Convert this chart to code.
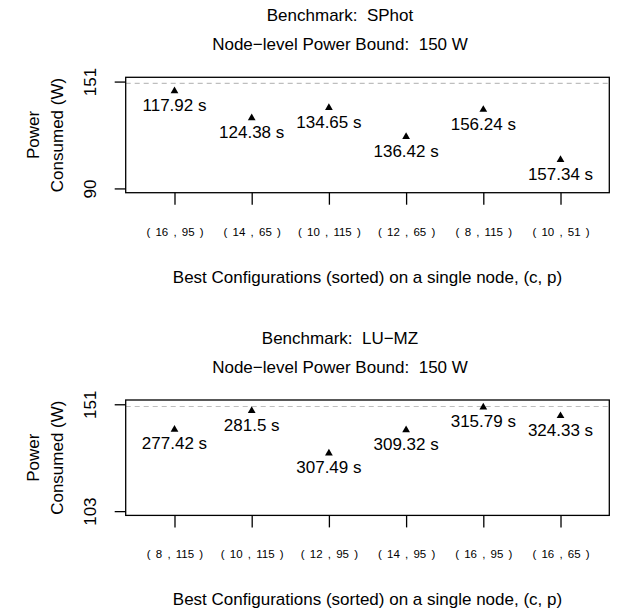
<!DOCTYPE html>
<html>
<head>
<meta charset="utf-8">
<script src="https://cdn.jsdelivr.net/npm/d3@7"></script>
<style>
  body { margin: 0; background: #fff; }
  text { font-family: 'Liberation Sans', Arial, sans-serif; fill: #000; }
</style>
</head>
<body>
<div id="chart"></div>
<script>
// data

var benchmarks = ['SPhot', 'LU\u2212MZ']
var powerBound = 150

var configsSPhot = ['( 16 , 95 )', '( 14 , 65 )', '( 10 , 115 )', '( 12 , 65 )', '( 8 , 115 )', '( 10 , 51 )']
var powerSPhot = [145.6, 130.2, 136.1, 119.5, 135.0, 106.4]
var timeSPhot = ['117.92 s', '124.38 s', '134.65 s', '136.42 s', '156.24 s', '157.34 s']
var yTicksSPhot = [90, 151]

var configsLUMZ = ['( 8 , 115 )', '( 10 , 115 )', '( 12 , 95 )', '( 14 , 95 )', '( 16 , 95 )', '( 16 , 65 )']
var powerLUMZ = [139.7, 148.1, 129.0, 139.4, 149.7, 145.8]
var timeLUMZ = ['277.42 s', '281.5 s', '307.49 s', '309.32 s', '315.79 s', '324.33 s']
var yTicksLUMZ = [103, 151]

// Set up sizes

var svgWidth = 622
var svgHeight = 610
var margin = { left: 125.7, right: 12.7 }
var width = svgWidth - margin.left - margin.right
var height = 115.4
var panelTops = [77.3, 400]

var svg = d3
  .select('#chart')
  .append('svg')
  .attr('width', svgWidth)
  .attr('height', svgHeight)

svg
  .append('rect')
  .attr('width', svgWidth)
  .attr('height', svgHeight)
  .attr('fill', '#fff')

var panels = [
  { name: benchmarks[0], configs: configsSPhot, power: powerSPhot, time: timeSPhot, ticks: yTicksSPhot },
  { name: benchmarks[1], configs: configsLUMZ, power: powerLUMZ, time: timeLUMZ, ticks: yTicksLUMZ }
]

panels.forEach(function(p, i) {
  var g = svg
    .append('g')
    .attr('transform', 'translate(' + margin.left + ',' + panelTops[i] + ')')

  // R style limits, padded 4% on each side
  var n = p.power.length
  var xLo = 0.6
  var xHi = n + 0.4
  var xPad = (xHi - xLo) * 0.04
  var xPositionScale = d3
    .scaleLinear()
    .domain([xLo - xPad, xHi + xPad])
    .range([0, width])

  var yMin = p.ticks[0]
  var yMax = p.ticks[1]
  var yPad = (yMax - yMin) * 0.04
  var yPositionScale = d3
    .scaleLinear()
    .domain([yMin - yPad, yMax + yPad])
    .range([height, 0])

  // titles
  g.append('text')
    .text('Benchmark:\u00a0 ' + p.name)
    .attr('x', 340 - margin.left)
    .attr('y', -56.5)
    .attr('text-anchor', 'middle')
    .attr('font-size', 17)

  g.append('text')
    .text('Node\u2212level Power Bound:\u00a0 ' + powerBound + ' W')
    .attr('x', 340 - margin.left)
    .attr('y', -27)
    .attr('text-anchor', 'middle')
    .attr('font-size', 17)

  // power bound line
  g.append('line')
    .attr('x1', 0)
    .attr('x2', width)
    .attr('y1', yPositionScale(powerBound))
    .attr('y2', yPositionScale(powerBound))
    .attr('stroke', '#bebebe')
    .attr('stroke-width', 1.2)
    .attr('stroke-dasharray', '5,4')

  // points
  var triangle = d3.symbol().type(d3.symbolTriangle).size(26)

  g.selectAll('.pt')
    .data(p.power)
    .enter()
    .append('path')
    .attr('class', 'pt')
    .attr('d', triangle)
    .attr('fill', '#000')
    .attr('transform', function(d, j) {
      return 'translate(' + xPositionScale(j + 1) + ',' + yPositionScale(d) + ')'
    })

  g.selectAll('.lbl')
    .data(p.power)
    .enter()
    .append('text')
    .attr('class', 'lbl')
    .text(function(d, j) {
      return p.time[j]
    })
    .attr('x', function(d, j) {
      return xPositionScale(j + 1)
    })
    .attr('y', function(d) {
      return yPositionScale(d) + 20
    })
    .attr('text-anchor', 'middle')
    .attr('font-size', 17)

  // box
  g.append('rect')
    .attr('width', width)
    .attr('height', height)
    .attr('fill', 'none')
    .attr('stroke', '#000')
    .attr('stroke-width', 1.3)

  // axes
  var xAxis = d3
    .axisBottom(xPositionScale)
    .tickValues(d3.range(1, n + 1))
    .tickSize(12)
    .tickSizeOuter(0)
    .tickFormat(function(d) {
      return p.configs[d - 1]
    })

  var xg = g
    .append('g')
    .attr('class', 'axis x-axis')
    .attr('transform', 'translate(0,' + height + ')')
    .call(xAxis)
  xg.select('.domain').remove()
  xg.selectAll('line').attr('stroke-width', 1.3)
  xg.selectAll('text')
    .attr('y', 43)
    .attr('dy', 0)
    .attr('font-size', 11.5)
    .attr('font-family', "'Liberation Sans', Arial, sans-serif")
    .style('word-spacing', '2px')

  var yAxis = d3
    .axisLeft(yPositionScale)
    .tickValues(p.ticks)
    .tickSize(11)
    .tickSizeOuter(0)

  var yg = g
    .append('g')
    .attr('class', 'axis y-axis')
    .call(yAxis)
  yg.select('.domain').remove()
  yg.selectAll('line').attr('stroke-width', 1.3)
  yg.selectAll('text')
    .attr('transform', 'rotate(-90)')
    .attr('x', 0)
    .attr('y', -30)
    .attr('dy', 0)
    .attr('text-anchor', 'middle')
    .attr('font-size', 17)
    .attr('font-family', "'Liberation Sans', Arial, sans-serif")

  // axis titles
  g.append('text')
    .text('Best Configurations (sorted) on a single node, (c, p)')
    .attr('x', width / 2)
    .attr('y', height + 90)
    .attr('text-anchor', 'middle')
    .attr('font-size', 17)

  var yLabel = g
    .append('g')
    .attr('transform', 'translate(' + (-margin.left) + ',' + height / 2 + ') rotate(-90)')
  yLabel.append('text')
    .text('Power')
    .attr('x', 0)
    .attr('y', 39)
    .attr('text-anchor', 'middle')
    .attr('font-size', 17)
  yLabel.append('text')
    .text('Consumed (W)')
    .attr('x', 0)
    .attr('y', 63)
    .attr('text-anchor', 'middle')
    .attr('font-size', 17)
})
</script>
</body>
</html>
